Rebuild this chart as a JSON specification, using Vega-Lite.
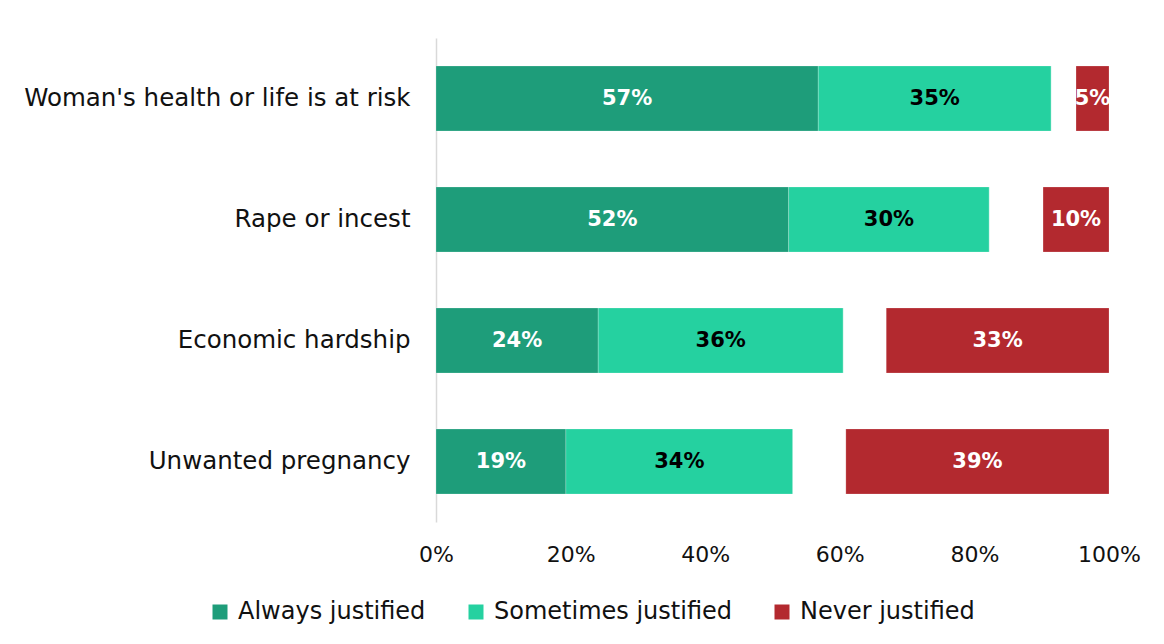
{
  "$schema": "https://vega.github.io/schema/vega-lite/v6.json",
  "width": 673,
  "height": 484,
  "autosize": "none",
  "padding": {"left": 436, "top": 38, "right": 55, "bottom": 122},
  "background": "white",
  "config": {"view": {"stroke": null}, "font": "DejaVu Sans"},
  "data": {
    "values": [
      {"question": "Woman's health or life is at risk", "cat": "Always justified", "order": 1, "value": 56.8},
      {"question": "Woman's health or life is at risk", "cat": "Sometimes justified", "order": 2, "value": 34.6},
      {"question": "Woman's health or life is at risk", "cat": "Gap", "order": 3, "value": 3.7},
      {"question": "Woman's health or life is at risk", "cat": "Never justified", "order": 4, "value": 4.9},
      {"question": "Rape or incest", "cat": "Always justified", "order": 1, "value": 52.4},
      {"question": "Rape or incest", "cat": "Sometimes justified", "order": 2, "value": 29.8},
      {"question": "Rape or incest", "cat": "Gap", "order": 3, "value": 8.0},
      {"question": "Rape or incest", "cat": "Never justified", "order": 4, "value": 9.8},
      {"question": "Economic hardship", "cat": "Always justified", "order": 1, "value": 24.1},
      {"question": "Economic hardship", "cat": "Sometimes justified", "order": 2, "value": 36.4},
      {"question": "Economic hardship", "cat": "Gap", "order": 3, "value": 6.4},
      {"question": "Economic hardship", "cat": "Never justified", "order": 4, "value": 33.1},
      {"question": "Unwanted pregnancy", "cat": "Always justified", "order": 1, "value": 19.3},
      {"question": "Unwanted pregnancy", "cat": "Sometimes justified", "order": 2, "value": 33.7},
      {"question": "Unwanted pregnancy", "cat": "Gap", "order": 3, "value": 7.9},
      {"question": "Unwanted pregnancy", "cat": "Never justified", "order": 4, "value": 39.1}
    ]
  },
  "transform": [
    {"stack": "value", "groupby": ["question"], "sort": [{"field": "order"}], "as": ["x0", "x1"]},
    {"calculate": "(datum.x0 + datum.x1) / 2", "as": "mid"},
    {"calculate": "format(datum.value, '.0f') + '%'", "as": "label"}
  ],
  "encoding": {
    "y": {
      "field": "question",
      "type": "nominal",
      "sort": ["Woman's health or life is at risk", "Rape or incest", "Economic hardship", "Unwanted pregnancy"],
      "scale": {"paddingInner": 0.463, "paddingOuter": 0.2315},
      "axis": {
        "title": null,
        "ticks": false,
        "domain": true,
        "domainColor": "#d9d9d9",
        "domainWidth": 1.5,
        "labelFontSize": 24.5,
        "labelColor": "#111111",
        "labelPadding": 26,
        "labelLimit": 430
      }
    }
  },
  "layer": [
    {
      "mark": {"type": "bar", "stroke": "white", "strokeWidth": 0.5, "strokeOpacity": 0.4},
      "encoding": {
        "x": {
          "field": "x0",
          "type": "quantitative",
          "scale": {"domain": [0, 100], "nice": false},
          "axis": {
            "title": null,
            "values": [0, 20, 40, 60, 80, 100],
            "labelExpr": "datum.value + '%'",
            "ticks": false,
            "domain": false,
            "grid": false,
            "labelFlush": false,
            "labelFontSize": 22,
            "labelColor": "#111111",
            "labelPadding": 22
          }
        },
        "x2": {"field": "x1"},
        "color": {
          "field": "cat",
          "type": "nominal",
          "scale": {
            "domain": ["Always justified", "Sometimes justified", "Gap", "Never justified"],
            "range": ["#1e9d7a", "#25d1a0", "rgba(255,255,255,0)", "#b3292f"]
          },
          "legend": {
            "title": null,
            "values": ["Always justified", "Sometimes justified", "Never justified"],
            "orient": "none",
            "direction": "horizontal",
            "legendX": -228,
            "legendY": 562,
            "symbolType": "square",
            "symbolSize": 225,
            "symbolStrokeWidth": 0,
            "symbolOpacity": 1,
            "labelFontSize": 24,
            "labelColor": "#111111",
            "labelOffset": 6,
            "columnPadding": 38,
            "labelLimit": 300
          }
        }
      }
    },
    {
      "transform": [{"filter": "datum.cat !== 'Gap'"}],
      "mark": {"type": "text", "fontWeight": "bold", "fontSize": 21, "baseline": "middle", "align": "center"},
      "encoding": {
        "x": {"field": "mid", "type": "quantitative"},
        "text": {"field": "label"},
        "color": {
          "condition": {"test": "datum.cat === 'Sometimes justified'", "value": "#000000"},
          "value": "#ffffff"
        }
      }
    }
  ]
}
